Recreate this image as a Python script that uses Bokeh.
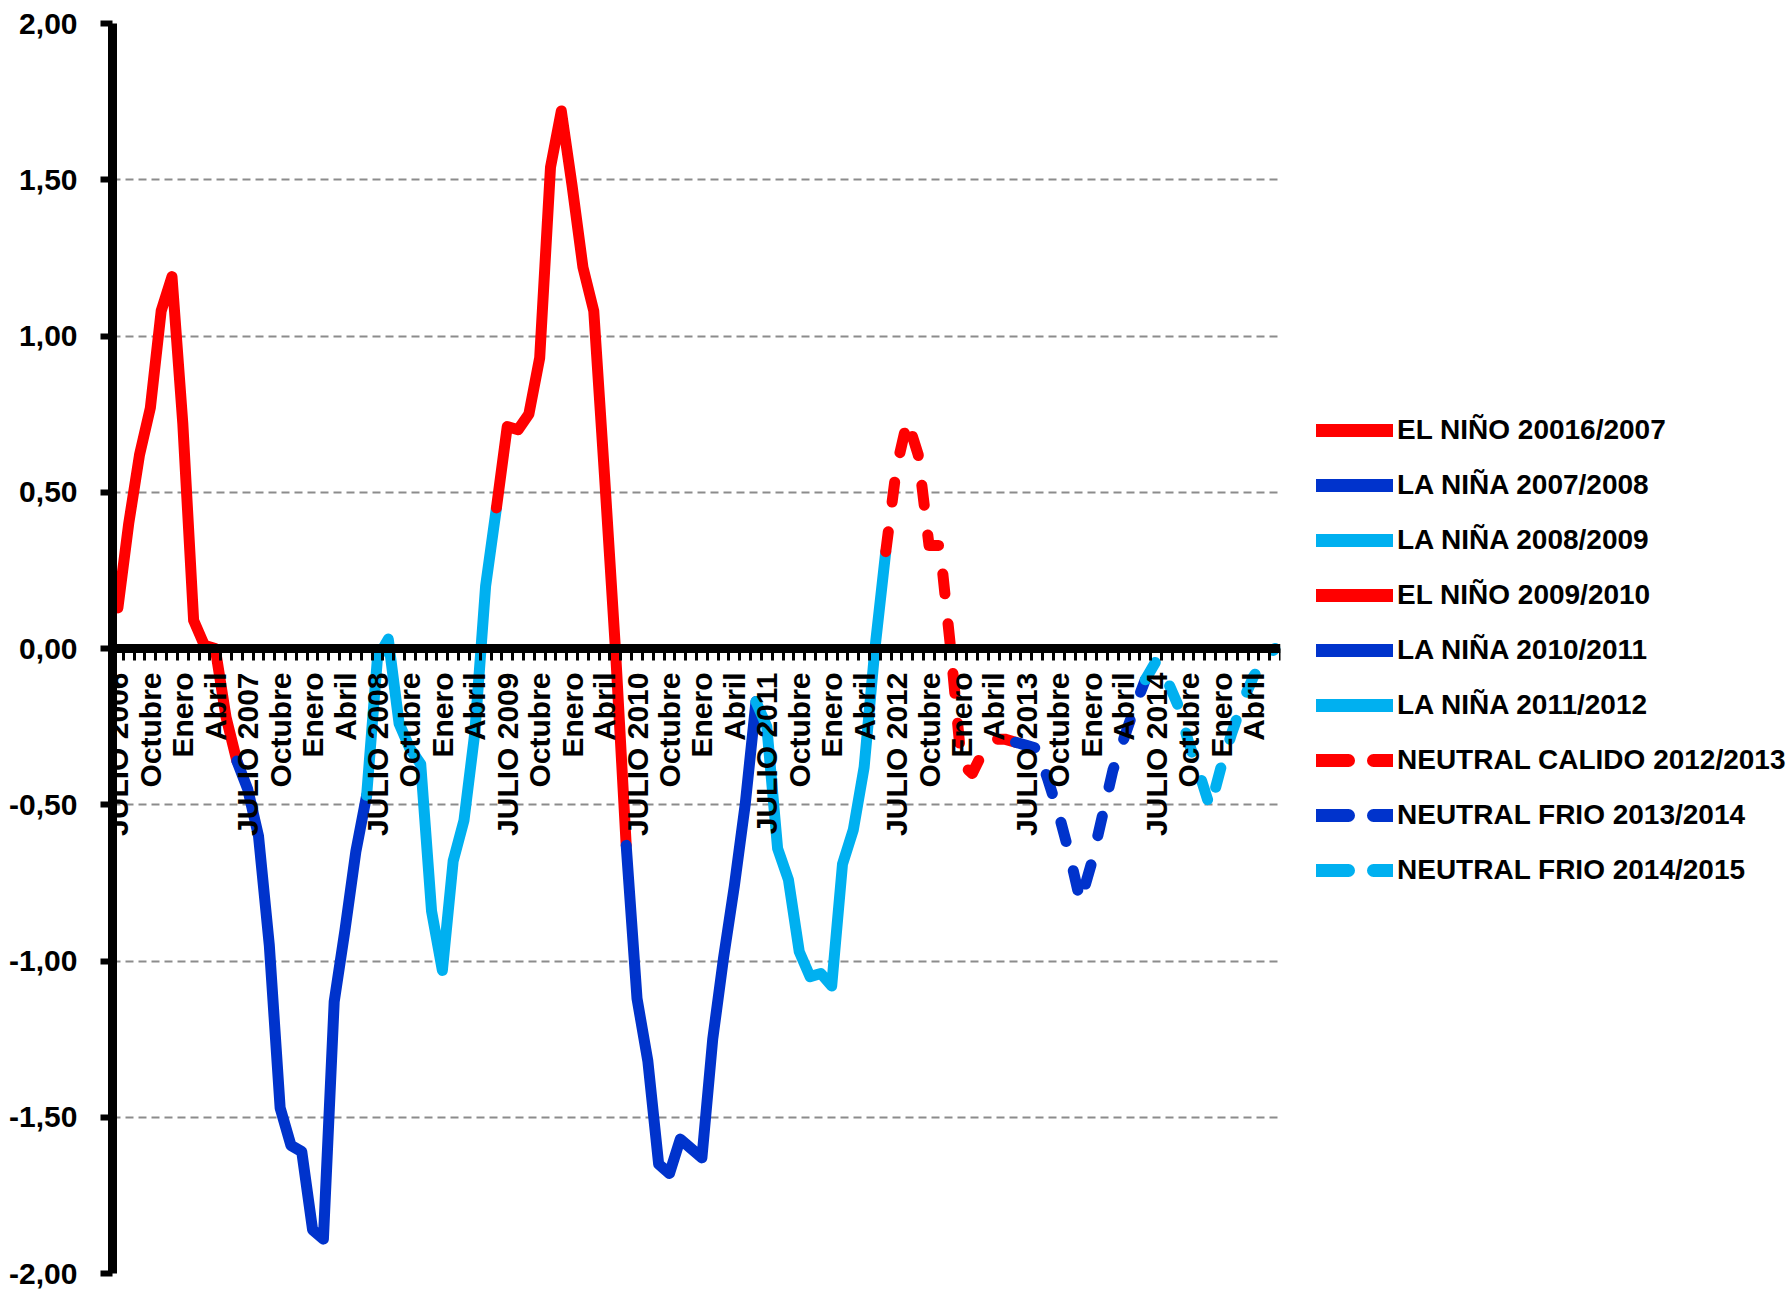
import math
import numpy as np
from bokeh.plotting import figure
from bokeh.models import (ColumnDataSource, FixedTicker, LinearAxis, Range1d,
                          Legend, LegendItem, Grid)
from bokeh.embed import file_html
from bokeh.resources import INLINE

# ---------------- data ----------------
month_abbr = ["Jul", "Ago", "Sep", "Oct", "Nov", "Dic",
              "Ene", "Feb", "Mar", "Abr", "May", "Jun"]
season_years = [2006, 2007, 2008, 2009, 2010, 2011, 2012, 2013, 2014]
months = []
for yr in season_years:
    for k, m in enumerate(month_abbr):
        months.append(f"{m} {yr if k < 6 else yr + 1}")

quarter_months = months[::3]
quarter_labels = []
for yr in season_years:
    quarter_labels += [f"JULIO {yr}", "Octubre", "Enero", "Abril"]

y_ticks = [-2.0, -1.5, -1.0, -0.5, 0.0, 0.5, 1.0, 1.5, 2.0]
y_tick_labels = ["-2,00", "-1,50", "-1,00", "-0,50", "0,00", "0,50", "1,00", "1,50", "2,00"]

nino_2006_2007 = [0.13, 0.40, 0.62, 0.77, 1.08, 1.19, 0.72, 0.09, 0.01, 0.00, -0.22, -0.36]
nina_2007_2008 = [-0.36, -0.45, -0.60, -0.95, -1.47, -1.59, -1.61, -1.86, -1.89, -1.13, -0.90, -0.65, -0.47]
nina_2008_2009 = [-0.47, -0.03, 0.03, -0.24, -0.32, -0.37, -0.84, -1.03, -0.68, -0.55, -0.27, 0.20, 0.45]
nino_2009_2010 = [0.45, 0.71, 0.70, 0.75, 0.93, 1.54, 1.72, 1.48, 1.22, 1.08, 0.55, 0.00, -0.63]
nina_2010_2011 = [-0.63, -1.12, -1.32, -1.65, -1.68, -1.57, -1.60, -1.63, -1.25, -0.99, -0.76, -0.50, -0.17]
nina_2011_2012 = [-0.17, -0.25, -0.64, -0.74, -0.97, -1.05, -1.04, -1.08, -0.69, -0.58, -0.38, 0.00, 0.31]
neutral_calido_2012_2013 = [0.31, 0.58, 0.73, 0.62, 0.33, 0.33, 0.00, -0.37, -0.40, -0.33, -0.29, -0.29, -0.30]
neutral_frio_2013_2014 = [-0.30, -0.31, -0.32, -0.42, -0.53, -0.66, -0.81, -0.69, -0.54, -0.39, -0.29, -0.19, -0.10]
neutral_frio_2014_2015 = [-0.10, -0.04, -0.10, -0.18, -0.30, -0.40, -0.51, -0.38, -0.27, -0.17, -0.09, -0.04, 0.00]

RED = "#FF0000"
DARK_BLUE = "#0033CC"
LIGHT_BLUE = "#00B0F0"

series = [
    ("EL NIÑO 20016/2007", "Jul 2006", nino_2006_2007, RED, "solid"),
    ("LA NIÑA 2007/2008", "Jun 2007", nina_2007_2008, DARK_BLUE, "solid"),
    ("LA NIÑA 2008/2009", "Jun 2008", nina_2008_2009, LIGHT_BLUE, "solid"),
    ("EL NIÑO 2009/2010", "Jun 2009", nino_2009_2010, RED, "solid"),
    ("LA NIÑA 2010/2011", "Jun 2010", nina_2010_2011, DARK_BLUE, "solid"),
    ("LA NIÑA 2011/2012", "Jun 2011", nina_2011_2012, LIGHT_BLUE, "solid"),
    ("NEUTRAL CALIDO 2012/2013", "Jun 2012", neutral_calido_2012_2013, RED, "dashed"),
    ("NEUTRAL FRIO 2013/2014", "Jun 2013", neutral_frio_2013_2014, DARK_BLUE, "dashed"),
    ("NEUTRAL FRIO 2014/2015", "Jun 2014", neutral_frio_2014_2015, LIGHT_BLUE, "dashed"),
]

FONT = "Liberation Sans"
PLOT_DASH = "20 30"
LEGEND_DASH = "32 25"

# ---------------- figure ----------------
n = len(months)
p = figure(frame_width=1168, frame_height=1250,
           x_range=Range1d(0, n), y_range=Range1d(-2, 2),
           output_backend="svg", toolbar_location=None,
           x_axis_location=None, y_axis_location=None,
           min_border_left=112, min_border_top=23, min_border_bottom=17,
           min_border_right=505)
p.outline_line_color = None
p.xgrid.visible = False
p.ygrid.visible = False
p.background_fill_color = "white"
p.border_fill_color = "white"

yax = LinearAxis(ticker=FixedTicker(ticks=y_ticks),
                 major_label_overrides={t: l for t, l in zip(y_ticks, y_tick_labels)},
                 axis_line_width=9, axis_line_color="black",
                 major_tick_out=12, major_tick_in=0, major_tick_line_width=6,
                 minor_tick_out=0, minor_tick_in=0,
                 major_label_standoff=23,
                 major_label_text_font=FONT,
                 major_label_text_font_style="bold",
                 major_label_text_font_size="30px",
                 major_label_text_color="black")
p.add_layout(yax, "left")

p.add_layout(Grid(dimension=1, ticker=yax.ticker, grid_line_color="#8c8c8c",
                  grid_line_dash="8 5", grid_line_width=2))

# lines
legend_items = []
for label, start, vals, color, style in series:
    i0 = months.index(start)
    xs = [i0 + k + 0.5 for k in range(len(vals))]
    src = ColumnDataSource(dict(x=xs, y=vals))
    kw = dict(line_color=color, line_width=11, line_join="round", line_cap="round")
    if style == "dashed":
        kw["line_dash"] = PLOT_DASH
    p.line("x", "y", source=src, **kw)
    # legend-only glyph (no visible data) carrying the legend's own stroke
    lkw = dict(line_color=color, line_width=13, line_cap="round")
    if style == "dashed":
        lkw["line_dash"] = LEGEND_DASH
    lsrc = ColumnDataSource(dict(x=np.array([np.nan]), y=np.array([np.nan])))
    lr = p.line("x", "y", source=lsrc, **lkw)
    legend_items.append(LegendItem(label=label, renderers=[lr]))

# category axis through zero: month boundaries as ticks
bounds = list(range(n + 1))
xax = LinearAxis(fixed_location=0, ticker=FixedTicker(ticks=bounds),
                 major_label_overrides={b: "" for b in bounds},
                 axis_line_width=9, axis_line_color="black",
                 major_tick_out=12, major_tick_in=0, major_tick_line_width=3,
                 minor_tick_out=0, minor_tick_in=0)
p.add_layout(xax, "below")

label_pos = [months.index(m) + 0.5 for m in quarter_months]
lax = LinearAxis(fixed_location=0, ticker=FixedTicker(ticks=label_pos),
                 major_label_overrides={t: l for t, l in zip(label_pos, quarter_labels)},
                 major_label_orientation=math.pi / 2,
                 axis_line_color=None, major_tick_line_color=None,
                 minor_tick_line_color=None, major_tick_out=0, major_tick_in=0,
                 minor_tick_out=0, minor_tick_in=0,
                 major_label_standoff=24,
                 major_label_text_font=FONT,
                 major_label_text_font_style="bold",
                 major_label_text_font_size="30px",
                 major_label_text_color="black")
p.add_layout(lax, "below")

legend = Legend(items=legend_items, location=(36, 383),
                glyph_width=77, glyph_height=40, label_height=40,
                label_standoff=4, spacing=15, padding=0, margin=0,
                label_text_font=FONT, label_text_font_style="bold",
                label_text_font_size="28px", label_text_color="black",
                border_line_color=None, background_fill_alpha=0)
p.add_layout(legend, "right")

open("out.html", "w").write(file_html(p, INLINE, "Chart"))
